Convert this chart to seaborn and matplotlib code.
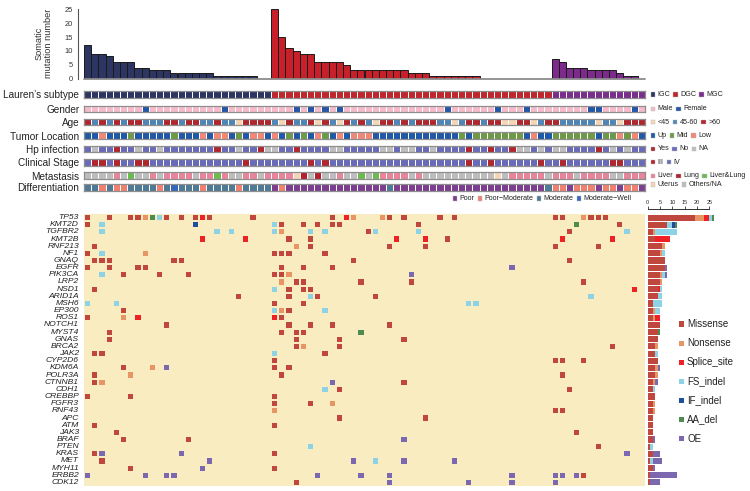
import matplotlib
matplotlib.use('Agg')
import matplotlib.pyplot as plt
from matplotlib.colors import ListedColormap
from matplotlib.patches import Rectangle
import numpy as np
import pandas as pd
import seaborn as sns

W, H = 750, 491

# ---------------- data ----------------
# somatic mutation number per sample (samples ordered as in the oncoprint)
burden = [12, 9, 9, 8, 6, 6, 6, 4, 4, 3, 3, 3, 2, 2, 2, 2, 2, 2, 1, 1, 1, 1, 1, 1, 0, 0,
          25, 15, 11, 10, 9, 9, 6, 6, 6, 6, 5, 3, 3, 3, 3, 3, 3, 3, 3, 2, 2, 2,
          1, 1, 1, 1, 1, 1, 1, 0, 0, 0, 0, 0, 0, 0, 0, 0, 0,
          7, 6, 4, 4, 4, 3, 3, 3, 3, 2, 1, 1, 0]

# clinical annotation rows, one character per sample
lauren = ("IIIIIIIIII" "IIIIIIIIII" "IIIIIIDDDD" "DDDDDDDDDD"
          "DDDDDDDDDD" "DDDDDDDDDD" "DDDDDMMMMM" "MMMMMMMM")
gender = ("MMMMMMMMFM" "MMMMMMMMMF" "MMMMMMMMMF" "MFMFMFMMMM"
          "MMMMMMMMMM" "FMMMMMMFMM" "MFMMMMMMMM" "FFMMMMFM")
age = ("OAOAOAOOAA" "AOOAOOAAOA" "AYOOOOAYOA" "AOYOAYOAOA"
       "YOOAOAOOOA" "AYAOOAOOYY" "OOYAOOAAAA" "AYAAYOOO")
location = ("UULUUUMUUU" "UUMUUULULL" "UMULLULUMU" "MULMULULLL"
            "UUUUUUUUUU" "UUMUMMMMMM" "MULUUMMMMM" "MUMMLMLU")
hp = ("NANNYNNANN" "ANNNNNNNYN" "NANNYAANNY" "NNNNAANNNN"
      "NAANAANNAN" "NNNYNNYNNY" "AANANAANNN" "NYNANANN")
stage = ("4334344334" "4444444444" "4434444444" "4343444444"
         "4444444444" "4443443444" "4443443444" "44433444")
metastasis = ("OOOOLOBOOL" "OLLLLOLLBL" "OOLLOLLLLT" "UOUOOLOOBO"
              "BLLLLOLOOO" "OOOOOOOTOL" "LLLLOLLLOL" "LLLOOLLL")
differentiation = ("DDRDRRDDDD" "RDWDDDRDDD" "DRDDDDPRPP" "PPPPPPPPPP"
                   "PPDPPPPPPP" "PPPPPPPPPP" "PPPPDRRPRR" "RPRRPRRP")

genes = ['TP53', 'KMT2D', 'TGFBR2', 'KMT2B', 'RNF213', 'NF1', 'GNAQ', 'EGFR',
         'PIK3CA', 'LRP2', 'NSD1', 'ARID1A', 'MSH6', 'EP300', 'ROS1', 'NOTCH1',
         'MYST4', 'GNAS', 'BRCA2', 'JAK2', 'CYP2D6', 'KDM6A', 'POLR3A', 'CTNNB1',
         'CDH1', 'CREBBP', 'FGFR3', 'RNF43', 'APC', 'ATM', 'JAK3', 'BRAF', 'PTEN',
         'KRAS', 'MET', 'MYH11', 'ERBB2', 'CDK12']

# mutated samples per gene: "<sample index><type code>"
calls = [
    "0M 3M 6M 7M 8N 9A 10F 11M 13M 15M 16S 17M 23M 34M 36S 37N 41N 42M 44M 49M 51M 65M 66M 69N 70M 71M 72M",
    "0M 2F 15I 26F 27M 30M 32M 34M 35M 46M 68A 74M",
    "2F 18F 20F 26F 27N 31F 33F 39M 40F 46F 67M 75F",
    "16S 22S 28M 31M 43S 47S 50M 66S 73S",
    "1M 29N 31M 42M 47M 65M 71M",
    "0M 2F 8N 26M 27M 28M 33M",
    "1M 2M 3M 12M 13M 37M 67M",
    "0M 3M 7M 8M 27M 30M 34M 59O",
    "2F 5M 10M 14M 26M 27M 28N 45O",
    "27N 29M 30M 38M 45M 69M",
    "1M 26F 28M 30M 31M 76S",
    "21M 28M 31F 32M 40M 70F",
    "0F 4F 26M 30M 53F 54F",
    "5M 26F 27N 28M 33F",
    "0M 5N 7S 26S 27M",
    "11M 28M 31M 34M 42M",
    "3M 27M 29M 30M 38A",
    "3M 29M 35M 44M",
    "29M 30N 35M 73M",
    "1M 2M 26F 33M",
    "26M 65M 66M 69M",
    "5M 9N 11O 26M 28M",
    "1M 6N 27M 66M",
    "1M 2N 34O 44M",
    "33F 35M 67M",
    "0M 6M 26M",
    "26M 31M 34N",
    "26N 65M 66M",
    "35M 47M",
    "1M 26M",
    "4M 68M",
    "5M 14M 44O",
    "31F 71M",
    "1M 2O 13O 26M 75O",
    "2M 17O 37O 40F 44O 51O",
    "6M 16O 26M",
    "0O 8O 11O 12O 32O 38O 42O 59O 65O 66O 68O 69M",
    "29M 42O 53O 59O 65O",
]

mut_codes = ['M', 'N', 'S', 'F', 'I', 'A', 'O']
mut_names = ['Missense', 'Nonsense', 'Splice_site', 'FS_indel', 'IF_indel', 'AA_del', 'OE']
mut_colors = ['#C0473D', '#E89566', '#EE2225', '#8ED3E5', '#1F4E9D', '#4F8A4F', '#7B68AE']
bg_color = '#F9ECC0'

# ---------------- styling ----------------
sns.set_style('white')
plt.rcParams['font.family'] = ['Liberation Sans', 'DejaVu Sans']

fig = plt.figure(figsize=(W / 100, H / 100), dpi=100)


def add_ax(x0, y0, x1, y1):
    return fig.add_axes([x0 / W, 1 - y1 / H, (x1 - x0) / W, (y1 - y0) / H])


n = len(lauren)
samples = ['S%d' % i for i in range(n)]
group_name = {'I': 'IGC', 'D': 'DGC', 'M': 'MGC'}

# ---------------- top bar chart ----------------
ax_top = add_ax(84, 9.3, 645, 78.7)
df_top = pd.DataFrame({'sample': samples, 'burden': burden,
                       'group': [group_name[c] for c in lauren]})
sns.barplot(data=df_top, x='sample', y='burden', hue='group', order=samples,
            palette={'IGC': '#2D3563', 'DGC': '#C8202B', 'MGC': '#7D2B8B'},
            dodge=False, width=1, saturation=1, edgecolor='#1a1a1a', linewidth=0.7,
            legend=False, ax=ax_top)
ax_top.set_xlim(-0.5, n - 0.5)
ax_top.set_ylim(0, 25)
ax_top.set_yticks([0, 5, 10, 15, 20, 25])
ax_top.set_xticks([])
ax_top.set_xlabel('')
ax_top.set_ylabel('')
ax_top.axhline(0, color='#8c8c8c', lw=1.3, zorder=5, clip_on=False)
for s in ['top', 'right', 'bottom']:
    ax_top.spines[s].set_visible(False)
ax_top.spines['left'].set_position(('outward', 4))
ax_top.spines['left'].set_color('#555555')
ax_top.spines['left'].set_linewidth(0.8)
ax_top.tick_params(axis='y', length=2.5, width=0.8, color='#555555', labelsize=5.4,
                   pad=1.5, labelcolor='#333333')
fig.text(44 / W, 1 - 43 / H, 'Somatic\nmutation number', rotation=90,
         ha='center', va='center', fontsize=6.7, linespacing=1.0, color='#333333')

# ---------------- annotation rows ----------------
annotations = [
    ("Lauren’s subtype", lauren, ['I', 'D', 'M'], ['#2D3563', '#C0272D', '#7B2D8E'],
     ['IGC', 'DGC', 'MGC'], 94.3),
    ('Gender', gender, ['M', 'F'], ['#F5BBCB', '#2356A6'], ['Male', 'Female'], 108.8),
    ('Age', age, ['Y', 'A', 'O'], ['#F6D7B5', '#4F86B8', '#B0262E'], ['<45', '45-60', '>60'], 122.0),
    ('Tumor Location', location, ['U', 'M', 'L'], ['#2058A8', '#6E9A48', '#F08878'],
     ['Up', 'Mid', 'Low'], 135.6),
    ('Hp infection', hp, ['Y', 'N', 'A'], ['#B0262E', '#6A6BB8', '#BEBEBE'], ['Yes', 'No', 'NA'], 149.0),
    ('Clinical Stage', stage, ['3', '4'], ['#B0262E', '#6A6BB8'], ['III', 'IV'], 162.3),
    ('Metastasis', metastasis, ['L', 'U', 'B', 'T', 'O'],
     ['#E8849B', '#B51F2E', '#6DBB4E', '#F6D5B5', '#BDBDBD'],
     ['Liver', 'Lung', 'Liver&Lung', 'Uterus', 'Others/NA'], 175.5),
    ('Differentiation', differentiation, ['P', 'R', 'D', 'W'],
     ['#7E3E90', '#F08070', '#4E7A96', '#3566B8'],
     ['Poor', 'Poor−Moderate', 'Moderate', 'Moderate−Well'], 187.5),
]

for label, values, codes, colors, names, yc in annotations:
    ax = add_ax(84, yc - 3.3, 645, yc + 3.3)
    arr = np.array([[codes.index(c) for c in values]])
    sns.heatmap(arr, cmap=ListedColormap(colors), vmin=-0.5, vmax=len(codes) - 0.5,
                cbar=False, linewidths=0.6, linecolor='white',
                xticklabels=False, yticklabels=False, ax=ax)
    for s in ax.spines.values():
        s.set_visible(True)
        s.set_color('#8E8E8E')
        s.set_linewidth(0.9)
    ax.set_yticks([0.5])
    ax.set_yticklabels([label], rotation=0, fontsize=7.2, color='#222222')
    ax.tick_params(axis='y', length=0, pad=3.4)

renderer = fig.canvas.get_renderer()


def draw_legend(x, y, names, colors, fontsize=5.1):
    for lab, col in zip(names, colors):
        fig.add_artist(Rectangle((x / W, 1 - (y + 2.2) / H), 4.4 / W, 4.4 / H,
                                 transform=fig.transFigure, facecolor=col,
                                 edgecolor='#bbbbbb', linewidth=0.3))
        t = fig.text((x + 7.0) / W, 1 - y / H, lab, fontsize=fontsize,
                     ha='left', va='center', color='#222222')
        x = x + 7.0 + t.get_window_extent(renderer).width + 3.0


for label, values, codes, colors, names, yc in annotations[:6]:
    draw_legend(650.7, yc, names, colors)
met = annotations[6]
draw_legend(650.7, 175.7, met[4][:3], met[3][:3])
draw_legend(650.7, 184.3, met[4][3:], met[3][3:])
dif = annotations[7]
draw_legend(452.7, 198.3, dif[4], dif[3])

# ---------------- mutation matrix ----------------
mat = np.zeros((len(genes), n), dtype=int)
for gi, row in enumerate(calls):
    for tok in row.split():
        mat[gi, int(tok[:-1])] = mut_codes.index(tok[-1]) + 1

ax_main = add_ax(84, 214, 645, 486)
sns.heatmap(pd.DataFrame(mat, index=genes), cmap=ListedColormap([bg_color] + mut_colors),
            vmin=-0.5, vmax=len(mut_codes) + 0.5, cbar=False,
            linewidths=0.3, linecolor=bg_color,
            xticklabels=False, yticklabels=genes, ax=ax_main)
ax_main.set_yticklabels(genes, rotation=0, fontsize=6.1, fontstyle='italic', color='#222222')
ax_main.tick_params(axis='y', length=0, pad=3.6)

# ---------------- per-gene stacked bars ----------------
unit = 2.465
ax_r = add_ax(647.7, 214, 647.7 + 28 * unit, 486)
left = np.zeros(len(genes))
ypos = np.arange(len(genes)) + 0.5
for k, col in enumerate(mut_colors):
    cnt = (mat == k + 1).sum(axis=1)
    ax_r.barh(ypos, cnt, left=left, height=0.86, color=col, linewidth=0)
    left += cnt
ax_r.set_ylim(len(genes), 0)
ax_r.set_xlim(0, 28)
ax_r.set_yticks([])
ax_r.set_facecolor('none')
for s in ['right', 'bottom', 'left']:
    ax_r.spines[s].set_visible(False)
ax_r.spines['top'].set_bounds(0, 25)
ax_r.spines['top'].set_position(('outward', 3.5))
ax_r.spines['top'].set_color('#333333')
ax_r.spines['top'].set_linewidth(0.7)
ax_r.xaxis.tick_top()
ax_r.set_xticks([0, 5, 10, 15, 20, 25])
ax_r.tick_params(axis='x', length=2, width=0.6, labelsize=4, pad=1, color='#333333')

# ---------------- mutation legend ----------------
for k, (name, col) in enumerate(zip(mut_names, mut_colors)):
    yc = 324 + 19.1 * k
    fig.add_artist(Rectangle((679 / W, 1 - (yc + 2.6) / H), 5.2 / W, 5.2 / H,
                             transform=fig.transFigure, facecolor=col, edgecolor='none'))
    fig.text(687 / W, 1 - yc / H, name, fontsize=7, ha='left', va='center', color='#222222')

fig.savefig('out.png', dpi=100)
